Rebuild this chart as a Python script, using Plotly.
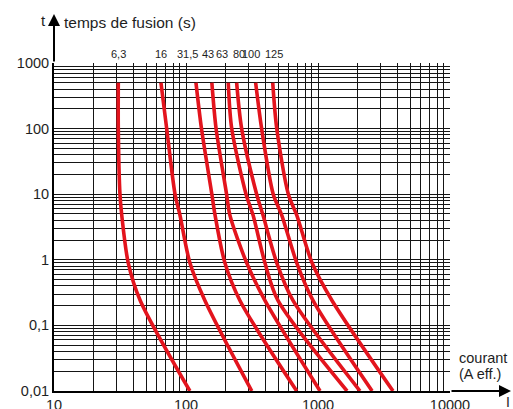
import math
import plotly.graph_objects as go

# ---- data ----
fuse_ratings = ["6,3", "16", "31,5", "43", "63", "80", "100", "125"]
t_points = [500, 100, 10, 4.8, 0.9, 0.24, 0.01]  # fusing time (s)
i_63 = [30.7, 30.7, 31.6, 32.6, 36.5, 45, 107]
i_16 = [64.6, 71.4, 82.6, 90, 107, 139, 315]
i_315 = [119, 131, 157, 166, 197, 256, 690]
i_43 = [157, 169, 203, 215, 288, 396, 1036]
i_63A = [209, 222, 285, 322, 396, 497, 1660]
i_80 = [242, 264, 343, 383, 487, 646, 2080]
i_100 = [337, 374, 458, 531, 690, 916, 2570]
i_125 = [454, 487, 596, 690, 901, 1276, 3700]
currents = [i_63, i_16, i_315, i_43, i_63A, i_80, i_100, i_125]

x_decades = [10, 100, 1000, 10000]
x_labels = ["10", "100", "1000", "10000"]
y_decades = [0.01, 0.1, 1, 10, 100, 1000]
y_labels = ["0,01", "0,1", "1", "10", "100", "1000"]

# ---- figure ----
W, H = 513, 409
ML, MR, MT, MB = 54, 63, 63, 18
PW, PH = W - ML - MR, H - MT - MB
FONT = "Liberation Sans, Arial, sans-serif"
TXT = "#1e1e1e"
RED = "#e3141d"


def grid_ticks(decades, labels):
    lab = dict(zip(decades, labels))
    vals, texts = [], []
    for d in decades:
        for m in range(1, 10):
            v = d * m
            if v > decades[-1] * 1.0001:
                break
            vals.append(v)
            texts.append(lab[d] if m == 1 else "")
    return vals, texts


xv, xt = grid_ticks(x_decades, x_labels)
yv, yt = grid_ticks(y_decades, y_labels)

fig = go.Figure()
for name, cur in zip(fuse_ratings, currents):
    fig.add_trace(go.Scatter(
        x=cur, y=t_points, mode="lines", name=name,
        line=dict(color=RED, width=3.6, shape="spline", smoothing=0.8),
        showlegend=False, hoverinfo="skip"))

fig.update_layout(
    width=W, height=H,
    margin=dict(l=ML, r=MR, t=MT, b=MB, autoexpand=False),
    paper_bgcolor="white", plot_bgcolor="white",
    font=dict(family=FONT, size=14, color=TXT),
    showlegend=False,
)
fig.update_xaxes(
    type="log", range=[math.log10(x_decades[0]), math.log10(x_decades[-1])],
    tickmode="array", tickvals=xv, ticktext=xt, ticks="",
    showgrid=True, gridcolor="#151515", gridwidth=1.3,
    showline=True, linecolor="black", linewidth=2,
    zeroline=False, automargin=False, tickfont=dict(size=14.5, color=TXT),
)
fig.update_yaxes(
    type="log", range=[math.log10(y_decades[0]), math.log10(y_decades[-1])],
    tickmode="array", tickvals=yv, ticktext=yt, ticks="",
    showgrid=True, gridcolor="#151515", gridwidth=1.3,
    showline=True, linecolor="black", linewidth=2,
    zeroline=False, automargin=False, tickfont=dict(size=14.5, color=TXT),
)


def px(xp):
    return (xp - ML) / PW


def py(yp):
    return (MT + PH - yp) / PH


def label(x, y, text, size, xanchor="center", xref="paper", xshift=0):
    return dict(xref=xref, yref="paper", x=x, y=y, text=text, xshift=xshift,
                xanchor=xanchor, yanchor="middle", showarrow=False,
                font=dict(size=size, color=TXT))


ann = []
# y axis arrow
ann.append(dict(xref="paper", yref="paper", x=0, y=py(14), ax=0, ay=MT - 14,
                showarrow=True, arrowhead=2,
                arrowsize=1.2, arrowwidth=2, arrowcolor="black", text=""))
# x axis arrow
ann.append(dict(xref="paper", yref="paper", x=px(511), y=0, ax=-(511 - ML - PW), ay=0,
                showarrow=True, arrowhead=2, arrowsize=1.2, arrowwidth=2,
                arrowcolor="black", text=""))
ann.append(label(px(43), py(20), "t", 15))
ann.append(label(px(62), py(22), "temps de fusion (s)", 15.5, xanchor="left"))
ann.append(label(px(457), py(358), "courant", 14.5, xanchor="left"))
ann.append(label(px(457), py(374), "(A eff.)", 14.5, xanchor="left"))
ann.append(label(px(508), py(402), "I", 14))

label_shift = [0, 0, -8, -4, -6, 2, -5, 1]
for name, cur, sh in zip(fuse_ratings, currents, label_shift):
    ann.append(label(math.log10(cur[0]), py(54), name, 11, xref="x", xshift=sh))

fig.update_layout(annotations=ann)
fig.write_html(
    "out.html",
    config={"displayModeBar": False},
    post_script="document.body.style.margin='0';document.body.style.padding='0';",
)
